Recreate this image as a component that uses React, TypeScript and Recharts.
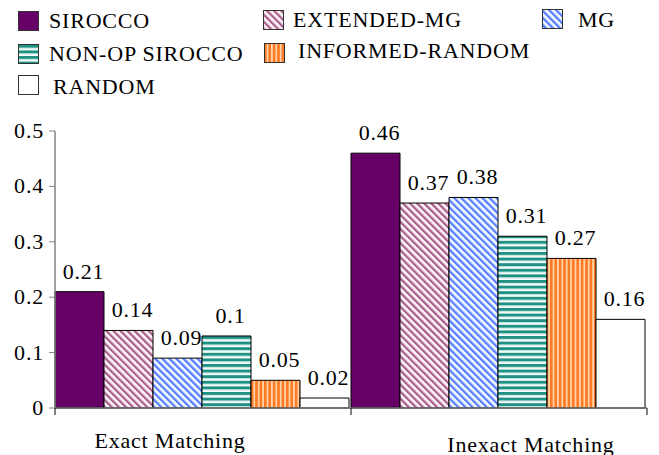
import React from "react";
import { BarChart, Bar, XAxis, YAxis, LabelList } from "recharts";

const categories = ["Exact Matching", "Inexact Matching"];
const seriesNames = ["SIROCCO", "EXTENDED-MG", "MG", "NON-OP SIROCCO", "INFORMED-RANDOM", "RANDOM"];

const sirocco = [0.21, 0.46];
const extendedMg = [0.14, 0.37];
const mg = [0.09, 0.38];
const nonOpSirocco = [0.13, 0.31];
const informedRandom = [0.05, 0.27];
const randomVals = [0.018, 0.16];

const siroccoLabels = ["0.21", "0.46"];
const extendedMgLabels = ["0.14", "0.37"];
const mgLabels = ["0.09", "0.38"];
const nonOpSiroccoLabels = ["0.1", "0.31"];
const informedRandomLabels = ["0.05", "0.27"];
const randomLabels = ["0.02", "0.16"];

const yTicks = [0, 0.1, 0.2, 0.3, 0.4, 0.5];

const seriesValues = [sirocco, extendedMg, mg, nonOpSirocco, informedRandom, randomVals];
const seriesLabels = [siroccoLabels, extendedMgLabels, mgLabels, nonOpSiroccoLabels, informedRandomLabels, randomLabels];

const data = categories.map((name, i) => {
  const row: any = { name };
  seriesValues.forEach((arr, s) => {
    row["s" + s] = arr[i];
    row["l" + s] = seriesLabels[s][i];
  });
  return row;
});

const FONT = "Liberation Serif, Tinos, DejaVu Serif, serif";
const W = 659;
const H = 455;
const M = { top: 131, right: 12, left: 0, bottom: 0 };
const Y_W = 55;
const X_H = 47;
const HALF_BAND = (W - M.right - Y_W) / categories.length / 2;

const textStyle: any = { fontFamily: FONT, fontSize: 22, letterSpacing: 0.8 };

const Defs = ({ p }: { p: string }) => (
  <defs>
    <pattern id={p + "ext"} patternUnits="userSpaceOnUse" width="5" height="5" patternTransform="rotate(-45)">
      <rect width="5" height="5" fill="#ffffff" />
      <rect width="2.4" height="5" fill="#ac5f8c" />
      <rect x="2.4" width="0.8" height="5" fill="#e4c4d6" />
    </pattern>
    <pattern id={p + "mg"} patternUnits="userSpaceOnUse" width="5" height="5" patternTransform="rotate(-45)">
      <rect width="5" height="5" fill="#ffffff" />
      <rect width="2.4" height="5" fill="#5580ff" />
      <rect x="2.4" width="0.8" height="5" fill="#c4d4ff" />
    </pattern>
    <pattern id={p + "nonop"} patternUnits="userSpaceOnUse" width="6" height="5.6">
      <rect width="6" height="5.6" fill="#ffffff" />
      <rect width="6" height="2.8" fill="#1f9284" />
      <rect y="2.8" width="6" height="1.2" fill="#bfe4e0" />
    </pattern>
    <pattern id={p + "inf"} patternUnits="userSpaceOnUse" width="4.4" height="6">
      <rect width="4.4" height="6" fill="#ffd2a8" />
      <rect width="2.6" height="6" fill="#ff7a22" />
    </pattern>
  </defs>
);

const fills = (p: string) => [
  "#660066",
  `url(#${p}ext)`,
  `url(#${p}mg)`,
  `url(#${p}nonop)`,
  `url(#${p}inf)`,
  "#ffffff",
];

const renderLabel = (props: any) => {
  const { x, y, width, value } = props;
  return (
    <text
      x={Number(x) + Number(width) / 2 + 4}
      y={Number(y) - 13}
      textAnchor="middle"
      style={textStyle}
      fill="#000"
    >
      {value}
    </text>
  );
};

const XTick = (props: any) => {
  const { x, y, payload, index } = props;
  const i = payload?.index ?? index ?? 0;
  const dx = i === 0 ? -33 : 32;
  const dy = i === 0 ? 40 : 44;
  return (
    <g>
      <line x1={x - HALF_BAND} y1={y} x2={x - HALF_BAND} y2={y + 7} stroke="#000" strokeWidth={1} />
      {i === categories.length - 1 && (
        <line x1={x + HALF_BAND} y1={y} x2={x + HALF_BAND} y2={y + 7} stroke="#000" strokeWidth={1} />
      )}
      <text x={x + dx} y={y + dy} textAnchor="middle" style={textStyle} fill="#000">
        {payload.value}
      </text>
    </g>
  );
};

const YTick = (props: any) => {
  const { x, y, payload } = props;
  return (
    <text x={x} y={y + 7} textAnchor="end" style={textStyle} fill="#000">
      {String(payload.value)}
    </text>
  );
};

const legendItems = [
  { s: 0, sx: 18, sy: 11, tx: 49, ty: 28 },
  { s: 1, sx: 263, sy: 10, tx: 293, ty: 27 },
  { s: 2, sx: 542, sy: 9, tx: 578, ty: 27 },
  { s: 3, sx: 18, sy: 44, tx: 49, ty: 61 },
  { s: 4, sx: 264, sy: 43, tx: 298, ty: 58 },
  { s: 5, sx: 18, sy: 75, tx: 53, ty: 94 },
];

export default function App() {
  const f = fills("c");
  const lf = fills("l");
  return (
    <div style={{ position: "absolute", left: 0, top: 0, width: W, height: H, background: "#fff" }}>
      <BarChart width={W} height={H} data={data} margin={M} barCategoryGap={0} barGap={0}>
        <Defs p="c" />
        <XAxis
          dataKey="name"
          height={X_H}
          axisLine={{ stroke: "#6e6e6e", strokeWidth: 1.5 }}
          tickLine={false}
          tickSize={0}
          tickMargin={0}
          tick={<XTick />}
          interval={0}
        />
        <YAxis
          width={Y_W}
          domain={[0, 0.5]}
          ticks={yTicks}
          interval={0}
          axisLine={{ stroke: "#808080", strokeWidth: 1.5 }}
          tickLine={{ stroke: "#808080" }}
          tickSize={6}
          tickMargin={5}
          tick={<YTick />}
        />
        {seriesNames.map((n, s) => (
          <Bar key={n} dataKey={"s" + s} name={n} fill={f[s]} stroke="#000" strokeWidth={1} isAnimationActive={false}>
            <LabelList dataKey={"l" + s} content={renderLabel} />
          </Bar>
        ))}
      </BarChart>
      <svg width={W} height={100} style={{ position: "absolute", left: 0, top: 0 }}>
        <Defs p="l" />
        {legendItems.map((it) => (
          <g key={it.s}>
            <rect x={it.sx + 0.5} y={it.sy + 0.5} width={20} height={19} fill={lf[it.s]} stroke="#333" strokeWidth={1} />
            <text x={it.tx} y={it.ty} style={textStyle} fill="#000">
              {seriesNames[it.s]}
            </text>
          </g>
        ))}
      </svg>
    </div>
  );
}
